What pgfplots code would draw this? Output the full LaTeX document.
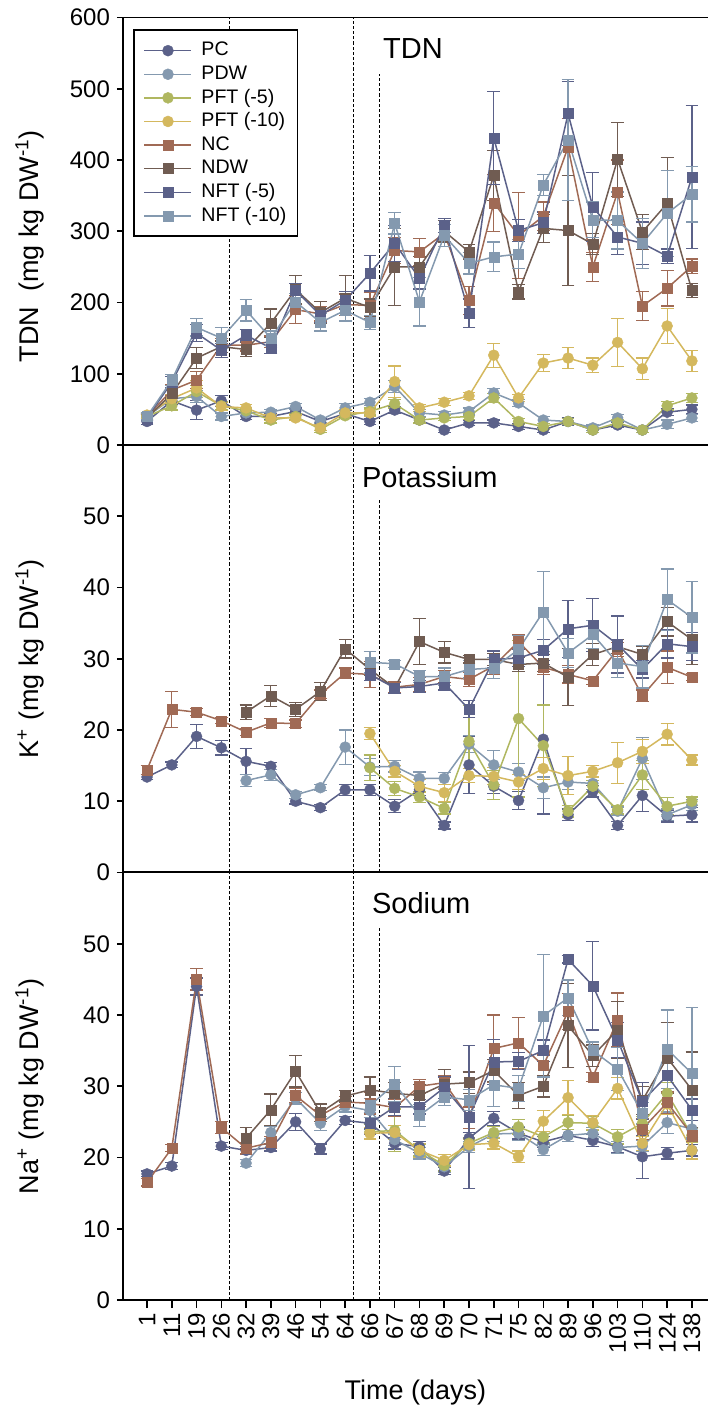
\documentclass[border=0pt]{standalone}
\usepackage{fontspec}
\setmainfont{Liberation Sans}
\usepackage{pgfplots}
\usepackage{pgfplotstable}
\pgfplotsset{compat=1.18}

\definecolor{cDark}{HTML}{5B6189}
\definecolor{cLight}{HTML}{8499AF}
\definecolor{cGreen}{HTML}{B0B760}
\definecolor{cGold}{HTML}{D4B85E}
\definecolor{cRed}{HTML}{A06A55}
\definecolor{cBrown}{HTML}{705C52}

\pgfplotstableread{
x PC ePC PDW ePDW P5 eP5 P10 eP10 NC eNC NDW eNDW N5 eN5 N10 eN10
0 33 4 40 4 40 4 42 4 40 4 38 4 38 4 40 5
1 62 5 65 5 55 6 65 6 77 8 72 6 88 8 91 8
2 49 13 68 8 75 8 80 10 91 12 122 15 157 12 165 12
3 62 8 40 5 55 6 54 6 140 10 138 8 133 10 150 15
4 40 4 45 4 48 4 52 5 140 8 134 10 154 8 189 15
5 40 4 46 4 35 4 38 4 145 8 171 20 136 8 150 10
6 47 5 54 4 40 4 38 4 190 20 218 20 217 10 201 12
7 33 4 35 4 22 4 24 4 184 10 186 15 182 10 172 12
8 44 5 52 6 41 4 45 5 197 15 206 32 203 12 189 15
9 33 4 60 5 47 5 45 5 196 18 193 12 241 25 172 10
10 49 5 82 8 58 6 89 22 273 18 250 54 283 25 311 15
11 35 4 45 5 35 4 52 5 271 19 250 15 234 15 201 34
12 21 4 42 5 38 4 60 5 297 12 300 15 308 10 294 15
13 31 4 47 5 40 4 69 5 203 20 271 10 185 20 255 15
14 31 4 73 6 66 6 126 17 340 40 378 35 431 65 264 21
15 26 4 59 5 33 4 66 5 294 60 215 10 301 15 268 20
16 21 4 35 5 26 4 115 12 321 20 304 20 312 15 365 15
17 33 5 33 4 33 4 122 15 418 40 301 77 465 45 428 85
18 21 4 24 4 21 4 112 10 250 20 282 15 334 48 316 25
19 28 4 38 5 31 4 144 34 355 45 401 52 292 25 315 40
20 21 4 21 4 21 4 107 15 195 20 299 25 283 30 283 35
21 46 5 29 6 55 6 167 25 220 25 339 65 265 10 325 60
22 50 6 38 5 66 6 118 15 251 10 217 10 376 100 352 39
}\tdn

\pgfplotstableread{
x PC ePC PDW ePDW P5 eP5 P10 eP10 NC eNC NDW eNDW N5 eN5 N10 eN10
0 13.4 0.4 nan nan nan nan nan nan 14.4 0.6 nan nan nan nan nan nan
1 15.1 0.4 nan nan nan nan nan nan 22.9 2.5 nan nan nan nan nan nan
2 19.1 1.7 nan nan nan nan nan nan 22.5 0.5 nan nan nan nan nan nan
3 17.5 1.0 nan nan nan nan nan nan 21.3 0.4 nan nan nan nan nan nan
4 15.6 1.8 12.9 0.8 nan nan nan nan 19.7 0.5 22.5 1.0 nan nan nan nan
5 14.9 0.5 13.7 0.8 nan nan nan nan 21.0 0.6 24.8 1.5 nan nan nan nan
6 10.0 0.4 10.9 0.5 nan nan nan nan 20.9 0.5 22.9 1.0 nan nan nan nan
7 9.1 0.4 11.9 0.4 nan nan nan nan 25.0 0.6 25.4 1.3 nan nan nan nan
8 11.6 0.8 17.6 2.4 nan nan nan nan 28.0 0.7 31.4 1.3 nan nan nan nan
9 11.6 0.8 14.8 1.2 14.7 1.8 19.5 0.8 27.8 1.8 28.5 0.8 27.8 0.8 29.5 1.5
10 9.3 0.9 14.9 0.8 11.8 1.0 14.2 0.8 26.0 0.8 25.9 0.8 25.9 0.8 29.3 0.5
11 11.6 0.8 13.2 0.9 10.6 0.8 12.1 0.9 26.4 1.0 32.4 3.2 26.1 0.8 27.5 0.8
12 6.6 0.5 13.2 0.8 9.0 0.8 11.2 1.2 27.5 0.8 30.9 1.5 26.6 1.0 27.5 1.2
13 15.1 4.0 18.0 1.2 18.4 5.0 13.6 1.0 27.1 1.0 29.9 0.5 22.9 1.2 28.5 1.2
14 12.1 1.0 15.1 2.0 12.3 2.0 13.5 1.2 29.0 1.2 29.9 0.8 29.9 1.2 28.7 1.5
15 10.1 1.3 14.1 1.2 21.6 11.0 12.7 1.0 32.4 1.0 29.2 1.0 30.1 1.2 31.3 2.0
16 18.7 10.5 11.9 1.5 17.8 5.7 14.6 1.5 28.8 1.0 29.4 1.2 31.2 1.5 36.6 5.6
17 8.1 0.8 12.7 1.0 8.6 0.8 13.6 2.7 27.8 1.2 27.4 4.0 34.2 4.0 30.8 2.0
18 11.4 0.8 12.5 0.8 12.1 0.8 14.2 0.8 26.9 0.5 30.6 1.5 34.7 3.7 33.4 2.0
19 6.6 0.6 8.6 0.6 8.8 0.6 15.4 2.9 31.3 1.0 31.7 1.0 32.0 4.0 29.4 2.0
20 10.8 2.2 16.0 3.0 13.7 2.0 17.0 1.7 24.8 0.8 30.6 1.2 28.5 1.2 28.9 3.0
21 7.9 0.8 8.1 0.8 9.3 1.2 19.4 1.5 28.8 2.3 35.2 2.0 32.1 2.0 38.3 4.3
22 8.1 1.0 9.5 0.8 10.0 0.6 15.8 0.7 27.4 0.5 32.7 3.5 31.7 2.0 35.8 5.0
}\pot

\pgfplotstableread{
x PC ePC PDW ePDW P5 eP5 P10 eP10 NC eNC NDW eNDW N5 eN5 N10 eN10
0 17.7 0.4 nan nan nan nan nan nan 16.5 0.5 nan nan nan nan nan nan
1 18.8 0.5 nan nan nan nan nan nan 21.3 0.5 nan nan nan nan nan nan
2 44.0 1.2 nan nan nan nan nan nan 45.0 1.5 nan nan nan nan nan nan
3 21.6 0.5 nan nan nan nan nan nan 24.2 0.8 nan nan nan nan nan nan
4 21.0 0.5 19.2 0.5 nan nan nan nan 21.3 0.8 22.7 1.5 nan nan nan nan
5 21.4 0.5 23.5 0.8 nan nan nan nan 22.1 0.8 26.7 2.2 nan nan nan nan
6 25.0 1.2 28.3 0.8 nan nan nan nan 28.7 1.0 32.1 2.2 nan nan nan nan
7 21.2 0.7 24.8 1.0 nan nan nan nan 25.9 0.8 26.3 1.2 nan nan nan nan
8 25.2 0.6 27.2 0.8 nan nan nan nan 27.8 0.8 28.6 0.8 nan nan nan nan
9 24.8 0.8 26.6 1.0 23.6 1.0 23.4 0.8 27.6 1.5 29.5 1.8 24.8 1.5 27.3 1.0
10 22.0 0.8 22.5 0.8 23.8 3.0 23.5 1.0 27.0 1.2 29.0 1.5 27.1 1.2 30.3 2.5
11 21.5 0.8 20.6 0.8 21.0 0.8 21.0 1.0 30.0 1.0 28.7 1.5 27.1 1.0 25.9 1.5
12 18.1 0.5 18.7 0.8 18.9 0.8 19.6 0.8 30.5 1.0 30.3 2.0 29.8 1.5 28.5 1.2
13 22.7 0.8 21.5 0.8 22.0 0.8 21.8 0.8 25.6 1.5 30.5 1.5 25.7 10.0 28.1 1.5
14 25.5 1.0 23.3 1.0 23.5 0.8 22.0 0.8 35.3 4.7 32.2 1.5 33.4 3.2 30.2 3.0
15 23.4 0.8 23.4 1.0 24.3 1.0 20.1 0.8 36.1 3.6 28.7 1.8 33.5 1.2 29.7 1.8
16 22.2 0.8 21.1 0.8 22.9 0.8 25.1 1.5 32.9 1.5 30.0 1.5 35.0 1.5 39.9 8.6
17 23.1 0.8 23.1 0.8 24.9 1.0 28.4 2.4 40.5 2.5 38.5 5.9 47.8 0.5 42.4 2.5
18 22.4 0.8 23.4 0.8 24.8 1.0 24.9 1.0 31.3 0.6 34.3 1.5 44.1 6.2 35.0 1.2
19 21.5 0.8 21.4 0.8 22.9 1.0 29.7 1.5 39.3 3.8 37.9 4.0 36.5 2.5 32.4 3.0
20 20.1 3.0 21.6 0.8 24.8 1.0 22.0 1.0 24.0 1.5 28.0 2.0 27.9 2.6 26.2 1.5
21 20.6 0.8 24.9 1.5 29.0 1.5 27.5 1.5 27.7 1.5 34.0 5.0 31.5 1.8 35.2 5.5
22 21.0 0.8 24.0 1.2 23.1 1.0 21.0 1.2 23.2 1.0 29.5 5.3 26.7 1.5 31.8 9.2
}\sod

\tikzset{dsh/.style={black, line width=0.6pt, dash pattern=on 1.6pt off 1.0pt}}

\pgfplotsset{
  ser/.style={line width=0.75pt, mark options={solid, line width=0.2pt},
    error bars/y dir=both, error bars/y explicit,
    error bars/error bar style={line width=0.6pt},
    error bars/error mark=-,
    error bars/error mark options={rotate=90, line width=0.6pt, mark size=3.2pt}},
  cir/.style={color=#1, mark=*, mark size=2.75pt, ser},
  sq/.style={color=#1, mark=square*, mark size=2.5pt, ser},
  panel/.style={
    width=292.5pt, height=213.75pt, scale only axis, anchor=south west,
    xmin=-0.97, xmax=22.65,
    axis x line*=bottom, axis y line*=left,
    axis line style={line width=1pt, black},
    tick align=outside, major tick length=3pt,
    tick style={line width=0.8pt, black},
    /pgf/number format/assume math mode=true,
    tick label style={font=\fontsize{12}{14}\selectfont},
    label style={font=\fontsize{13.5}{15}\selectfont},
    ylabel style={at={(axis description cs:-0.159,0.5)}, anchor=center},
    legend image code/.code={\draw[mark repeat=2,mark phase=2] plot coordinates {(0pt,0pt) (11.75pt,0pt) (23.5pt,0pt)};},
  },
}

\begin{document}
\begin{tikzpicture}
\path[use as bounding box] (-61.5pt,-54.5pt) rectangle (292.5pt,650pt);

% ---------- Sodium ----------
\begin{axis}[panel, at={(0pt,0pt)},
  ymin=0, ymax=60, ytick={0,10,20,30,40,50},
  xtick={0,...,22},
  xticklabels={1,11,19,26,32,39,46,54,64,66,67,68,69,70,71,75,82,89,96,103,110,124,138},
  x tick label style={rotate=90, anchor=east},
  xtick style={/pgfplots/major tick length=4pt},
  xlabel={Time (days)},
  xlabel style={at={(axis description cs:0.5,-0.2175)}, anchor=center},
  ylabel={Na\textsuperscript{+} (mg kg DW\textsuperscript{-1})}]
\draw[dsh] (axis cs:3.33,0) -- (axis cs:3.33,60);
\draw[dsh] (axis cs:8.35,0) -- (axis cs:8.35,60);
\draw[dsh] (axis cs:9.39,0) -- (axis cs:9.39,52.2);
\addplot[cir=cDark] table[x=x,y=PC,y error=ePC]{\sod};
\addplot[cir=cLight] table[x=x,y=PDW,y error=ePDW]{\sod};
\addplot[cir=cGreen] table[x=x,y=P5,y error=eP5]{\sod};
\addplot[cir=cGold] table[x=x,y=P10,y error=eP10]{\sod};
\addplot[sq=cRed] table[x=x,y=NC,y error=eNC]{\sod};
\addplot[sq=cBrown] table[x=x,y=NDW,y error=eNDW]{\sod};
\addplot[sq=cDark] table[x=x,y=N5,y error=eN5]{\sod};
\addplot[sq=cLight] table[x=x,y=N10,y error=eN10]{\sod};
\node[anchor=west, inner sep=0pt, font=\fontsize{14.5}{16}\selectfont] at (axis cs:9.07,55.7) {Sodium};
\end{axis}

% ---------- Potassium ----------
\begin{axis}[panel, at={(0pt,213.75pt)},
  ymin=0, ymax=60, ytick={0,10,20,30,40,50}, xtick=\empty,
  ylabel={K\textsuperscript{+} (mg kg DW\textsuperscript{-1})}]
\draw[dsh] (axis cs:3.33,0) -- (axis cs:3.33,60);
\draw[dsh] (axis cs:8.35,0) -- (axis cs:8.35,60);
\draw[dsh] (axis cs:9.39,0) -- (axis cs:9.39,52.3);
\addplot[cir=cDark] table[x=x,y=PC,y error=ePC]{\pot};
\addplot[cir=cLight] table[x=x,y=PDW,y error=ePDW]{\pot};
\addplot[cir=cGreen] table[x=x,y=P5,y error=eP5]{\pot};
\addplot[cir=cGold] table[x=x,y=P10,y error=eP10]{\pot};
\addplot[sq=cRed] table[x=x,y=NC,y error=eNC]{\pot};
\addplot[sq=cBrown] table[x=x,y=NDW,y error=eNDW]{\pot};
\addplot[sq=cDark] table[x=x,y=N5,y error=eN5]{\pot};
\addplot[sq=cLight] table[x=x,y=N10,y error=eN10]{\pot};
\node[anchor=west, inner sep=0pt, font=\fontsize{14.5}{16}\selectfont] at (axis cs:8.67,55.5) {Potassium};
\end{axis}

% ---------- TDN ----------
\begin{axis}[panel, at={(0pt,427.5pt)},
  ymin=0, ymax=600, ytick={0,100,200,300,400,500,600}, xtick=\empty,
  ylabel={TDN\ \ (mg kg DW\textsuperscript{-1})},
  ylabel style={at={(axis description cs:-0.159,0.465)}},
  legend cell align=left,
  legend style={at={(axis description cs:0.017,0.972)}, anchor=north west,
    draw=black, line width=0.8pt, fill=white,
    font=\fontsize{9.8}{11}\selectfont,
    inner xsep=5pt, inner ysep=5pt, row sep=1.4pt,
    nodes={inner sep=0.6pt, text height=7.2pt, text depth=2pt},
    /tikz/every odd column/.append style={column sep=4pt}}]
\draw[dsh] (axis cs:3.33,0) -- (axis cs:3.33,600);
\draw[dsh] (axis cs:8.35,0) -- (axis cs:8.35,600);
\draw[dsh] (axis cs:9.39,0) -- (axis cs:9.39,520);
\addplot[cir=cDark] table[x=x,y=PC,y error=ePC]{\tdn};
\addlegendentry{PC}
\addplot[cir=cLight] table[x=x,y=PDW,y error=ePDW]{\tdn};
\addlegendentry{PDW}
\addplot[cir=cGreen] table[x=x,y=P5,y error=eP5]{\tdn};
\addlegendentry{PFT (-5)}
\addplot[cir=cGold] table[x=x,y=P10,y error=eP10]{\tdn};
\addlegendentry{PFT (-10)}
\addplot[sq=cRed] table[x=x,y=NC,y error=eNC]{\tdn};
\addlegendentry{NC}
\addplot[sq=cBrown] table[x=x,y=NDW,y error=eNDW]{\tdn};
\addlegendentry{NDW}
\addplot[sq=cDark] table[x=x,y=N5,y error=eN5]{\tdn};
\addlegendentry{NFT (-5)}
\addplot[sq=cLight] table[x=x,y=N10,y error=eN10]{\tdn};
\addlegendentry{NFT (-10)}
\draw[line width=1pt] (rel axis cs:0,1) -- (rel axis cs:1,1);
\node[anchor=west, inner sep=0pt, font=\fontsize{14.5}{16}\selectfont] at (axis cs:9.52,556.6) {TDN};
\end{axis}
\end{tikzpicture}
\end{document}
